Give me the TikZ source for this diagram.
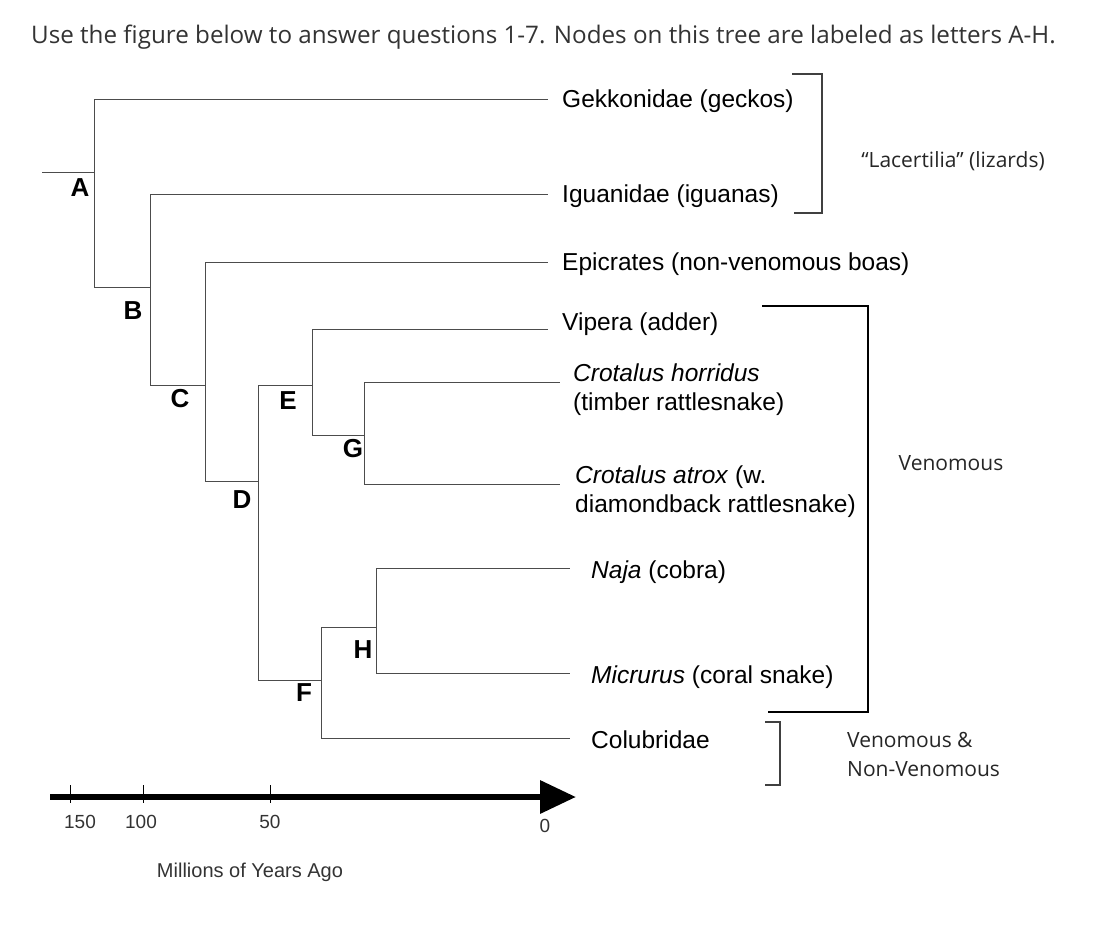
\documentclass[tikz,border=0pt]{standalone}
\usepackage{fontspec}
\setmainfont{Liberation Sans}
\newfontfamily\ofont{Open Sans}
\usetikzlibrary{arrows.meta}
\begin{document}
\begin{tikzpicture}[x=1pt,y=-1pt,
  br/.style={draw=black!75,line width=1.1pt},
  tl/.style={draw=black!70,line width=0.9pt},
  sp/.style={anchor=west,font=\fontsize{24.5}{29}\selectfont,inner sep=0pt,align=left},
  let/.style={font=\fontsize{26}{26}\selectfont\bfseries,inner sep=0pt},
  tick/.style={font=\fontsize{19}{19}\selectfont,inner sep=0pt,text=black!80},
  grp/.style={font=\ofont\fontsize{21}{29}\selectfont,inner sep=0pt,align=left,text=black!85},
  bk/.style={draw=black,line width=2pt}]
\useasboundingbox (0,0) rectangle (1114,948);
\node[anchor=west,font=\ofont\fontsize{24.2}{26}\selectfont,inner sep=0pt,text=black!80] (title) at (31,37) {Use the figure below to answer questions 1-7. Nodes on this tree are labeled as letters A-H.};
% tree
\coordinate (a) at (94,172);
\draw[tl] (42,172) -- (a);
\draw[tl] (94,287) -- (94,99) -- (548,99);
\draw[tl] (94,287) -- (150,287);
\draw[tl] (150,385) -- (150,194) -- (548,194);
\draw[tl] (150,385) -- (205,385);
\draw[tl] (205,481) -- (205,262) -- (548,262);
\draw[tl] (205,481) -- (258,481);
\draw[tl] (258,680) -- (258,385) -- (312,385);
\draw[tl] (312,435) -- (312,329) -- (548,329);
\draw[tl] (312,435) -- (364,435);
\draw[tl] (364,484) -- (364,382) -- (560,382);
\draw[tl] (364,484) -- (560,484);
\draw[tl] (258,680) -- (321,680);
\draw[tl] (321,738) -- (321,627) -- (376,627);
\draw[tl] (376,673) -- (376,568) -- (570,568);
\draw[tl] (376,673) -- (570,673);
\draw[tl] (321,738) -- (570,738);
% letters
\node[let] (lA) at (80,188) {A};
\node[let] (lB) at (133,311) {B};
\node[let] (lC) at (180,399) {C};
\node[let] (lE) at (288,401) {E};
\node[let] (lG) at (353,449) {G};
\node[let] (lD) at (242,500) {D};
\node[let] (lH) at (363,650) {H};
\node[let] (lF) at (304,693) {F};
% species
\node[sp] (s1) at (562,101) {Gekkonidae (geckos)};
\node[sp] (s2) at (562,196) {Iguanidae (iguanas)};
\node[sp] (s3) at (562,264) {Epicrates (non-venomous boas)};
\node[sp] (s4) at (562,324) {Vipera (adder)};
\node[sp] (s5) at (573,390) {\textit{Crotalus horridus}\\(timber rattlesnake)};
\node[sp] (s6) at (575,492) {\textit{Crotalus atrox} (w.\\diamondback rattlesnake)};
\node[sp] (s7) at (591,572) {\textit{Naja} (cobra)};
\node[sp] (s8) at (591,677) {\textit{Micrurus} (coral snake)};
\node[sp] (s9) at (591,740) {Colubridae};
% brackets
\draw[br] (792,74) -- (822,74) -- (822,213) -- (794,213);
\node[grp] (g1) at (953,161) {\textquotedblleft Lacertilia\textquotedblright{} (lizards)};
\draw[bk,line width=2.4pt] (762,306) -- (868,306) -- (868,712) -- (768,712);
\node[grp] (g2) at (951,463) {Venomous};
\draw[br] (765,722) -- (780,722) -- (780,785) -- (765,785);
\node[grp,anchor=west] (g3) at (847,754) {Venomous \&\\Non-Venomous};
% axis
\draw[line width=6.5pt,-{Triangle[length=36pt,width=32pt]}] (50,797) -- (576,797);
\foreach \x in {70,143,270} \draw[line width=0.8pt] (\x,785) -- (\x,803);
\node[tick] (t1) at (80,822) {150};
\node[tick] (t2) at (141,822) {100};
\node[tick] (t3) at (270,822) {50};
\node[tick] (t4) at (545,826) {0};
\node[tick,font=\fontsize{20}{20}\selectfont] (ax) at (250,872) {Millions of Years Ago};
\end{tikzpicture}
\end{document}
